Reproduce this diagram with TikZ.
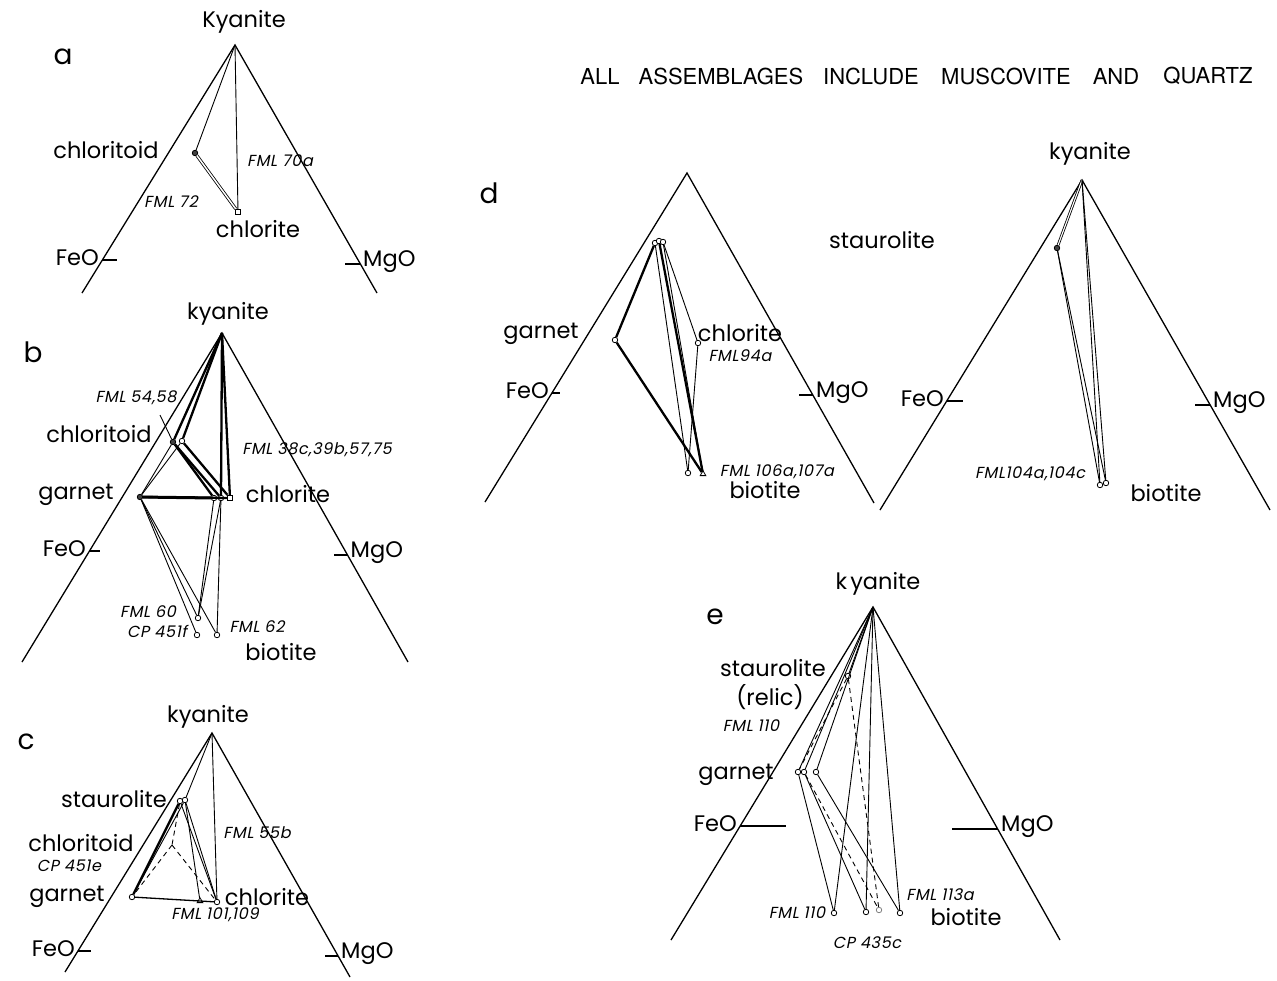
\documentclass[tikz,border=0pt]{standalone}
\usepackage{fontspec}
\setmainfont{Poppins}
\newfontfamily\fmlfont[FakeSlant=0.2,LetterSpace=4]{Poppins}
\newfontfamily\titlefont{TeX Gyre Heros}
\usetikzlibrary{calc,shapes.geometric}
\begin{document}
\begin{tikzpicture}[x=1pt,y=-1pt,
  side/.style={line width=1.3pt},
  tie/.style={line width=0.9pt},
  heavy/.style={line width=2.3pt},
  dtie/.style={line width=0.9pt, dash pattern=on 5pt off 4pt},
  dbl/.style={draw=black, line width=0.8pt, double=white, double distance=1.5pt},
  lab/.style={font=\fontsize{22.5}{22.5}\selectfont, inner sep=0pt},
  fml/.style={font=\fmlfont\fontsize{16}{16}\selectfont, inner sep=0pt},
  panel/.style={font=\fontsize{28}{28}\selectfont, inner sep=0pt},
  ttl/.style={font=\titlefont\fontsize{22}{22}\selectfont, inner sep=0pt},
  feo/.style={lab, anchor=east, xshift=-3pt, yshift=2pt},
  mgo/.style={lab, anchor=west, xshift=3pt, yshift=2pt},
  pt/.style={circle, draw, line width=0.8pt, fill=white, inner sep=0pt, minimum size=5.5pt},
  dot/.style={circle, draw, line width=0.8pt, fill=black!75, inner sep=0pt, minimum size=5.5pt},
  sq/.style={rectangle, draw, line width=0.8pt, fill=white, inner sep=0pt, minimum size=5.5pt},
  tri/.style={regular polygon, regular polygon sides=3, draw, line width=0.8pt, fill=white, inner sep=0pt, minimum size=6.5pt}
]
\useasboundingbox (0,0) rectangle (1277,980);
\fill[white] (0,0) rectangle (1277,980);

% ---------- title ----------
\node[ttl] (t1) at (600,76) {ALL};
\node[ttl] (t2) at (721,76) {ASSEMBLAGES};
\node[ttl] (t3) at (871,76) {INCLUDE};
\node[ttl] (t4) at (1006,76) {MUSCOVITE};
\node[ttl] (t5) at (1116,76) {AND};
\node[ttl] (t6) at (1208,76) {QUARTZ};

% ---------- a ----------
\coordinate (aK) at (235,45); \coordinate (aL) at (82,293); \coordinate (aR) at (377,293);
\draw[side] (aL) -- (aK) -- (aR);
\coordinate (aF) at (102,260); \coordinate (aM) at (360,264);
\draw[side] (aF) -- ++(15,0);
\draw[side] (aM) -- ++(-15,0);
\node[dot] (aCtd) at (195,153) {};
\node[sq] (aChl) at (238,212) {};
\draw[tie] (aK) -- (aCtd);
\draw[tie] (aK) -- (aChl);
\draw[dbl] (aCtd) -- (aChl);
\node[panel] (aP) at (63,57) {a};
\node[lab] (aKy) at (244,22) {Kyanite};
\node[lab] (aCtdL) at (106,150) {chloritoid};
\node[fml] (aF72) at (171,202) {FML 72};
\node[fml] (aF70) at (280,161) {FML 70a};
\node[lab] (aChlL) at (258,229) {chlorite};
\node[feo] (aFeO) at (aF) {FeO};
\node[mgo] (aMgO) at (aM) {MgO};

% ---------- b ----------
\coordinate (bK) at (222,333); \coordinate (bL) at (22,662); \coordinate (bR) at (408,662);
\draw[side] (bL) -- (bK) -- (bR);
\coordinate (bF) at (89,551); \coordinate (bM) at (347.5,555);
\draw[side] (bF) -- ++(11,0);
\draw[side] (bM) -- ++(-14,0);
\node[dot] (bCtd1) at (173,442) {};
\node[pt] (bCtd2) at (182,441) {};
\node[dot] (bG) at (140,497) {};
\node[pt] (bChl1) at (214,498) {};
\node[pt] (bChl2) at (221,498) {};
\node[sq] (bChl3) at (230,498) {};
\node[pt] (bB1) at (198,618) {};
\node[pt] (bB2) at (197,635) {};
\node[pt] (bB3) at (217,635) {};
\draw[heavy] (bK) -- (bCtd1);
\draw[heavy] (bK) -- (bCtd2);
\draw[heavy] (bK) -- (bChl2);
\draw[heavy] (bK) -- (bChl3);
\draw[heavy] (bCtd1) -- (bChl1);
\draw[heavy] (bCtd1) -- (bChl2);
\draw[heavy] (bCtd2) -- (bChl3);
\draw[tie] (bCtd1) -- (bG);
\draw[tie] (bCtd2) -- (bG);
\draw[heavy,line width=3pt] (bG) -- (bChl1);
\draw[heavy] (bG) -- (bChl3);
\draw[tie] (bG) -- (bB1);
\draw[tie] (bG) -- (bB2);
\draw[tie] (bG) -- (bB3);
\draw[tie] (bChl1) -- (bB1);
\draw[tie] (bChl2) -- (bB1);
\draw[tie] (bChl2) -- (bB3);
\coordinate (bLd) at (160,415);
\draw[tie] (bLd) -- (bCtd1);
\node[panel] (bP) at (33,352) {b};
\node[lab] (bKy) at (228,314) {kyanite};
\node[fml] (bF54) at (136,398) {FML 54,58};
\node[lab] (bCtdL) at (99,434) {chloritoid};
\node[fml] (bF38) at (317,450) {FML 38c,39b,57,75};
\node[lab] (bGL) at (76,495) {garnet};
\node[lab] (bChlL) at (288,494) {chlorite};
\node[feo] (bFeO) at (bF) {FeO};
\node[mgo] (bMgO) at (bM) {MgO};
\node[fml] (bF60) at (148,612) {FML 60};
\node[fml] (bCP) at (157,631) {CP 451f};
\node[fml] (bF62) at (257,627) {FML 62};
\node[lab] (bBL) at (281,652) {biotite};

% ---------- c ----------
\coordinate (cK) at (212,733); \coordinate (cL) at (65,972); \coordinate (cR) at (350,977);
\draw[side] (cL) -- (cK) -- (cR);
\coordinate (cF) at (78,951); \coordinate (cM) at (338,956);
\draw[side] (cF) -- ++(13,0);
\draw[side] (cM) -- ++(-13,0);
\node[pt] (cS1) at (180,801) {};
\node[pt] (cS2) at (185,800) {};
\node[pt] (cG) at (132,897) {};
\node[pt] (cChl) at (217,902) {};
\node[tri] (cX) at (200,901) {};
\coordinate (cCtd) at (172,845);
\draw[tie] (cK) -- (cS2);
\draw[tie] (cK) -- (cChl);
\draw[heavy] (cS1) -- (cG);
\draw[tie] (cS2) -- (cG);
\draw[tie] (cS1) -- (cChl);
\draw[tie] (cS2) -- (cChl);
\draw[tie] (cS2) -- (cX);
\draw[tie,line width=1.3pt] (cG) -- (cChl);
\draw[dtie] (cS1) -- (cCtd);
\draw[dtie] (cCtd) -- (cG);
\draw[dtie] (cCtd) -- (cChl);
\node[panel] (cP) at (26,742) {c};
\node[lab] (cKy) at (208,717) {kyanite};
\node[lab] (cSL) at (114,799) {staurolite};
\node[fml] (cF55) at (257,833) {FML 55b};
\node[lab] (cCtdL) at (81,843) {chloritoid};
\node[fml] (cCP) at (69,866) {CP 451e};
\node[lab] (cGL) at (67,897) {garnet};
\node[lab] (cChlL) at (267,897) {chlorite};
\node[fml] (cF101) at (215,915) {FML 101,109};
\node[feo] (cFeO) at (cF) {FeO};
\node[mgo] (cMgO) at (cM) {MgO};

% ---------- d ----------
\coordinate (dK) at (687,173); \coordinate (dL) at (485,502); \coordinate (dR) at (874,503);
\draw[side] (dL) -- (dK) -- (dR);
\coordinate (dF) at (552,393); \coordinate (dM) at (813,395);
\draw[side] (dF) -- ++(8,0);
\draw[side] (dM) -- ++(-14,0);
\node[pt] (dS1) at (655,243) {};
\node[pt] (dS2) at (659,241) {};
\node[pt] (dS3) at (663,242) {};
\node[pt] (dG) at (615,340) {};
\node[pt] (dChl) at (698,343) {};
\node[pt] (dB1) at (688,473) {};
\node[tri] (dB2) at (703,474) {};
\draw[heavy] (dS1) -- (dG);
\draw[heavy] (dG) -- (dB2);
\draw[heavy] (dS2) -- (dB2);
\draw[tie] (dS3) -- (dB2);
\draw[tie] (dS1) -- (dB1);
\draw[tie] (dS3) -- (dChl);
\draw[tie] (dChl) -- (dB1);
\node[panel] (dP) at (489,193) {d};
\node[lab] (dSL) at (882,240) {staurolite};
\node[lab] (dGL) at (541,334) {garnet};
\node[lab] (dChlL) at (740,333) {chlorite};
\node[fml] (dF94) at (740,356) {FML94a};
\node[feo] (dFeO) at (dF) {FeO};
\node[mgo] (dMgO) at (dM) {MgO};
\node[fml] (dF106) at (777,472) {FML 106a,107a};
\node[lab] (dBL) at (765,490) {biotite};

% ---------- d (right) ----------
\coordinate (fK) at (1082,180); \coordinate (fL) at (880,510); \coordinate (fR) at (1270,510);
\draw[side] (fL) -- (fK) -- (fR);
\coordinate (fF) at (947,401); \coordinate (fM) at (1210,405);
\draw[side] (fF) -- ++(16,0);
\draw[side] (fM) -- ++(-15,0);
\node[dot] (fS) at (1057,248) {};
\node[pt] (fB1) at (1100,485) {};
\node[pt] (fB2) at (1106,483) {};
\draw[dbl,double distance=1.1pt] (fK) -- (fS);
\draw[tie] (fS) -- (fB1);
\draw[tie] (fS) -- (fB2);
\draw[tie] (fK) -- (fB1);
\draw[tie] (fK) -- (fB2);
\node[lab] (fKy) at (1090,154) {kyanite};
\node[feo] (fFeO) at (fF) {FeO};
\node[mgo] (fMgO) at (fM) {MgO};
\node[fml] (fF104) at (1030,474) {FML104a,104c};
\node[lab] (fBL) at (1166,493) {biotite};

% ---------- e ----------
\coordinate (eK) at (873,607); \coordinate (eL) at (671,940); \coordinate (eR) at (1060,940);
\draw[side] (eL) -- (eK) -- (eR);
\coordinate (eF) at (740,826); \coordinate (eM) at (998,829);
\draw[side] (eF) -- ++(46,0);
\draw[side] (eM) -- ++(-46,0);
\node[pt] (eS) at (848,676) {};
\node[pt] (eG1) at (798,772) {};
\node[pt] (eG2) at (804,772) {};
\node[pt] (eG3) at (816,772) {};
\node[pt] (eB1) at (834,913) {};
\node[pt] (eB2) at (866,912) {};
\node[pt,draw=black!50] (eB3) at (879,910) {};
\node[pt] (eB4) at (900,913) {};
\draw[tie] (eK) -- (eS);
\draw[tie] (eK) -- (eG1);
\draw[tie] (eK) -- (eG2);
\draw[tie] (eK) -- (eG3);
\draw[tie] (eK) -- (eB1);
\draw[tie] (eK) -- (eB2);
\draw[tie] (eK) -- (eB4);
\draw[tie] (eG1) -- (eB1);
\draw[tie] (eG2) -- (eB2);
\draw[tie] (eG3) -- (eB4);
\draw[dtie] (eS) -- (eG1);
\draw[dtie] (eS) -- (eB3);
\draw[dtie] (eG2) -- (eB3);
\node[panel] (eP) at (715,617) {e};
\node[lab] (eKy) at (878,584) {k\kern3pt yanite};
\node[lab] (eSL) at (773,668) {staurolite};
\node[lab] (eRel) at (770,697) {(relic)};
\node[fml] (eF110a) at (751,726) {FML 110};
\node[lab] (eGL) at (736,775) {garnet};
\node[feo] (eFeO) at (eF) {FeO};
\node[mgo] (eMgO) at (eM) {MgO};
\node[fml] (eF113) at (940,895) {FML 113a};
\node[fml] (eF110b) at (797,913) {FML 110};
\node[lab] (eBL) at (966,917) {biotite};
\node[fml] (eCP) at (867,943) {CP 435c};
\end{tikzpicture}
\end{document}
